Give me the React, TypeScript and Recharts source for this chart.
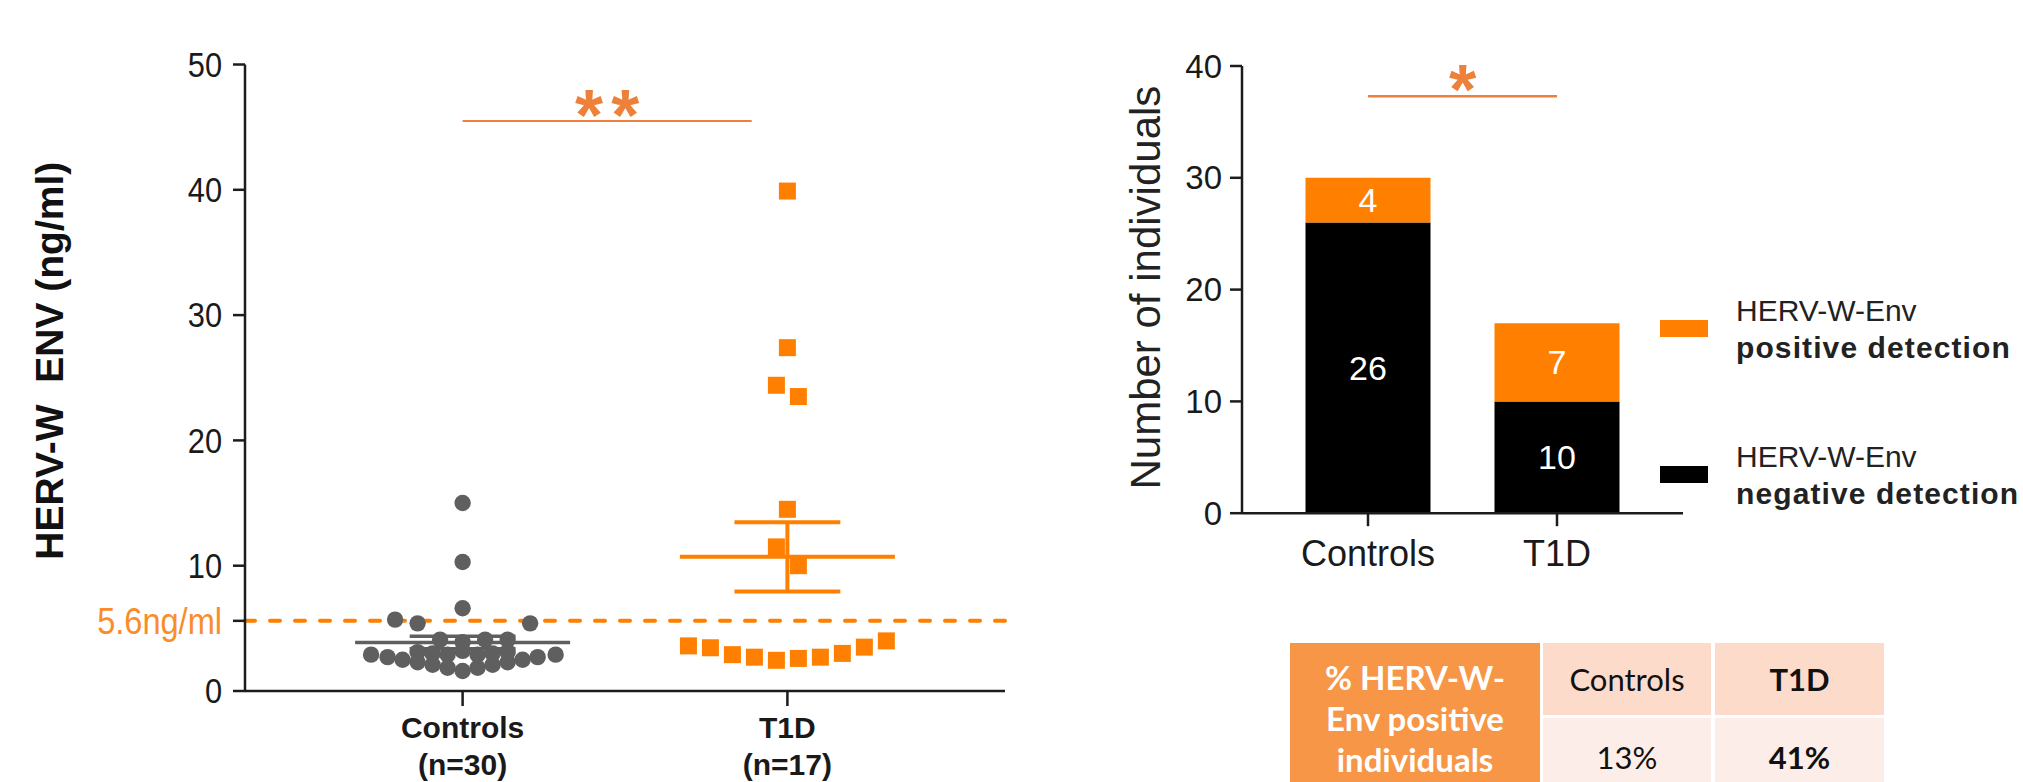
import React from 'react';
import {
  ScatterChart,
  Scatter,
  XAxis,
  YAxis,
  ReferenceLine,
  BarChart,
  Bar,
  LabelList,
} from 'recharts';

// ---------------- Left panel data ----------------
const groupNames = ['Controls', 'T1D'];
const groupSizes = ['(n=30)', '(n=17)'];
const controlsValues = [
  15.0, 10.3, 6.6, 5.7, 5.4, 5.4,
  4.1, 3.9, 4.1, 4.1,
  3.1, 3.0, 2.9, 3.2, 2.9, 3.0, 3.1,
  1.6, 1.85, 1.85, 2.1, 2.1, 2.3, 2.3, 2.5, 2.5, 2.7, 2.7, 2.9, 2.9,
];
// beeswarm slot of each point (in point widths from the group centre)
const controlsSwarm = [
  0, 0, 0, -4.5, -3, 4.5,
  -1.5, 0, 1.5, 3,
  -3, -2, -1, 0, 1, 2, 3,
  0, -1, 1, -2, 2, -3, 3, -4, 4, -5, 5, -6.1, 6.2,
];
const t1dValues = [39.9, 27.4, 24.4, 23.5, 14.5, 11.5, 10.0, 3.6, 3.45, 2.9, 2.7, 2.45, 2.6, 2.7, 3.0, 3.5, 4.0];
const t1dSwarm = [0, 0, -0.5, 0.5, 0, -0.5, 0.5, -4.5, -3.5, -2.5, -1.5, -0.5, 0.5, 1.5, 2.5, 3.5, 4.5];
const thresholdValue = 5.6;
const thresholdLabel = '5.6ng/ml';
const leftYTicks = [0, 5.6, 10, 20, 30, 40, 50];
const leftYTitle = 'HERV-W  ENV (ng/ml)';
const leftSigText = '**';
const leftSigLevel = 45.5;
const leftSigEnd = 1.89;

// ---------------- Right panel data ----------------
const barCategories = ['Controls', 'T1D'];
const negativeCounts = [26, 10];
const positiveCounts = [4, 7];
const rightYTicks = [0, 10, 20, 30, 40];
const rightYTitle = 'Number of individuals';
const rightSigText = '*';
const rightSigLevel = 37.3;
const legendPrefix = 'HERV-W-Env';
const legendNames = ['positive detection', 'negative detection'];

// ---------------- Table data ----------------
const tableHeaderLines = ['% HERV-W-', 'Env positive', 'individuals'];
const tableGroups = ['Controls', 'T1D'];
const tablePercents = ['13%', '41%'];

// ---------------- styling ----------------
const FONT = '"Liberation Sans", Arial, sans-serif';
const AXIS_COLOR = '#1c1c1c';
const TEXT_COLOR = '#1a1a1a';
const ORANGE = '#FF8000';
const ORANGE_TEXT = '#F98D2A';
const SIG_COLOR = '#EE8139';
const GREY = '#5f5f5f';
const CONTROL_STEP = 0.0462;
const T1D_STEP = 0.0677;
const MEAN_HALF = 0.331;
const CAP_HALF = 0.163;

const mean = (a: number[]) => a.reduce((s, v) => s + v, 0) / a.length;
const sem = (a: number[]) => {
  const m = mean(a);
  const sd = Math.sqrt(a.reduce((s, v) => s + (v - m) * (v - m), 0) / (a.length - 1));
  return sd / Math.sqrt(a.length);
};

const controlsData = controlsValues.map((v, i) => ({ x: 1 + controlsSwarm[i] * CONTROL_STEP, y: v }));
const t1dData = t1dValues.map((v, i) => ({ x: 2 + t1dSwarm[i] * T1D_STEP, y: v }));
const groupStats = [
  { x: 1, m: mean(controlsValues), e: sem(controlsValues), color: GREY, w: 3.5 },
  { x: 2, m: mean(t1dValues), e: sem(t1dValues), color: ORANGE, w: 4 },
];

const barData = barCategories.map((c, i) => ({ name: c, negative: negativeCounts[i], positive: positiveCounts[i] }));

const axisStyle = { stroke: AXIS_COLOR, strokeWidth: 2.5 };

const CircleShape = (props: any) => <circle cx={props.cx} cy={props.cy} r={8.2} fill={GREY} />;
const SquareShape = (props: any) => (
  <rect x={props.cx - 8.5} y={props.cy - 8.5} width={17} height={17} fill={ORANGE} />
);

const LeftYTick = (props: any) => {
  const { x, y, payload } = props;
  const isThr = payload.value === thresholdValue;
  return (
    <text
      transform={`translate(${x}, ${y}) scale(0.88, 1)`}
      x={0}
      y={0}
      textAnchor="end"
      dominantBaseline="central"
      fontFamily={FONT}
      fontSize={isThr ? 37 : 35}
      fill={isThr ? ORANGE_TEXT : TEXT_COLOR}
    >
      {isThr ? thresholdLabel : payload.value}
    </text>
  );
};

const LeftXTick = (props: any) => {
  const { x, y, payload } = props;
  const i = Math.round(payload.value) - 1;
  return (
    <g>
      <text x={x} y={y + 21} textAnchor="middle" dominantBaseline="central" fontFamily={FONT} fontSize={30} fontWeight={700} fill={TEXT_COLOR}>
        {groupNames[i]}
      </text>
      <text x={x} y={y + 58} textAnchor="middle" dominantBaseline="central" fontFamily={FONT} fontSize={30} fontWeight={700} fill={TEXT_COLOR}>
        {groupSizes[i]}
      </text>
    </g>
  );
};

const LeftYTitle = (props: any) => {
  const vb = props.viewBox || { x: 0, y: 0, width: 0, height: 0 };
  const cx = vb.x + 49;
  const cy = vb.y + vb.height / 2 - 17;
  return (
    <text
      x={cx}
      y={cy}
      transform={`rotate(-90, ${cx}, ${cy})`}
      textAnchor="middle"
      dominantBaseline="central"
      fontFamily={FONT}
      fontSize={39}
      fontWeight={700}
      fill="#111"
      style={{ whiteSpace: 'pre' }}
    >
      {leftYTitle}
    </text>
  );
};

const RightYTitle = (props: any) => {
  const vb = props.viewBox || { x: 0, y: 0, width: 0, height: 0 };
  const cx = vb.x + 136;
  const cy = vb.y + vb.height / 2 - 2;
  return (
    <text
      x={cx}
      y={cy}
      transform={`rotate(-90, ${cx}, ${cy})`}
      textAnchor="middle"
      dominantBaseline="central"
      fontFamily={FONT}
      fontSize={42}
      fill="#222"
    >
      {rightYTitle}
    </text>
  );
};

const RightYTick = (props: any) => {
  const { x, y, payload } = props;
  return (
    <text x={x} y={y} textAnchor="end" dominantBaseline="central" fontFamily={FONT} fontSize={33} fill={TEXT_COLOR}>
      {payload.value}
    </text>
  );
};

const RightXTick = (props: any) => {
  const { x, y, payload } = props;
  return (
    <text x={x} y={y + 27} textAnchor="middle" dominantBaseline="central" fontFamily={FONT} fontSize={36} fill={TEXT_COLOR}>
      {payload.value}
    </text>
  );
};

const makeSigLabel = (text: string, size: number, drop: number, spacing: number) => (props: any) => {
  const vb = props.viewBox || { x: 0, y: 0, width: 0, height: 0 };
  return (
    <text
      x={vb.x + vb.width / 2 + spacing / 2}
      y={vb.y + drop}
      textAnchor="middle"
      fontFamily={FONT}
      fontSize={size}
      fontWeight={700}
      fill={SIG_COLOR}
      letterSpacing={spacing}
    >
      {text}
    </text>
  );
};

const LeftSig = makeSigLabel(leftSigText, 72, 19, 8);
const RightSig = makeSigLabel(rightSigText, 70, 18, 0);

export default function App() {
  return (
    <div
      style={{
        position: 'fixed',
        left: 0,
        top: 0,
        width: 2023,
        height: 782,
        overflow: 'hidden',
        background: '#fff',
        fontFamily: FONT,
      }}
    >
      {/* Left scatter panel */}
      <div style={{ position: 'absolute', left: 0, top: 0 }}>
        <ScatterChart width={1010} height={782} margin={{ top: 64.5, right: 5, bottom: 0, left: 0 }}>
          <XAxis
            type="number"
            dataKey="x"
            domain={[0.33, 2.67]}
            ticks={[1, 2]}
            interval={0}
            height={91}
            axisLine={axisStyle}
            tickLine={axisStyle}
            tickSize={15}
            tickMargin={0}
            tick={<LeftXTick />}
          />
          <YAxis
            type="number"
            dataKey="y"
            domain={[0, 50]}
            ticks={leftYTicks}
            interval={0}
            width={245}
            axisLine={axisStyle}
            tickLine={axisStyle}
            tickSize={12}
            tickMargin={11}
            tick={<LeftYTick />}
            label={{ content: LeftYTitle }}
          />
          <ReferenceLine
            y={thresholdValue}
            stroke={ORANGE}
            strokeWidth={4}
            strokeDasharray="10 15"
            strokeLinecap="round"
          />
          <ReferenceLine
            segment={[
              { x: 1, y: leftSigLevel },
              { x: leftSigEnd, y: leftSigLevel },
            ]}
            stroke={SIG_COLOR}
            strokeWidth={2}
            label={{ content: LeftSig }}
          />
          <Scatter data={controlsData} shape={CircleShape} isAnimationActive={false} />
          <Scatter data={t1dData} shape={SquareShape} isAnimationActive={false} />
          {groupStats.map((g, i) => (
            <ReferenceLine
              key={`mean-${i}`}
              segment={[
                { x: g.x - MEAN_HALF, y: g.m },
                { x: g.x + MEAN_HALF, y: g.m },
              ]}
              stroke={g.color}
              strokeWidth={g.w}
            />
          ))}
          {groupStats.map((g, i) => (
            <ReferenceLine
              key={`capu-${i}`}
              segment={[
                { x: g.x - CAP_HALF, y: g.m + g.e },
                { x: g.x + CAP_HALF, y: g.m + g.e },
              ]}
              stroke={g.color}
              strokeWidth={g.w}
            />
          ))}
          {groupStats.map((g, i) => (
            <ReferenceLine
              key={`capl-${i}`}
              segment={[
                { x: g.x - CAP_HALF, y: g.m - g.e },
                { x: g.x + CAP_HALF, y: g.m - g.e },
              ]}
              stroke={g.color}
              strokeWidth={g.w}
            />
          ))}
          {groupStats.map((g, i) => (
            <ReferenceLine
              key={`err-${i}`}
              segment={[
                { x: g.x, y: g.m - g.e },
                { x: g.x, y: g.m + g.e },
              ]}
              stroke={g.color}
              strokeWidth={g.w}
            />
          ))}
        </ScatterChart>
      </div>

      {/* Right stacked bar panel */}
      <div style={{ position: 'absolute', left: 1010, top: 0 }}>
        <BarChart width={680} height={600} data={barData} margin={{ top: 66, right: 7, bottom: 0, left: 0 }} barSize={125}>
          <XAxis
            dataKey="name"
            padding={{ left: 31.5, right: 31.5 }}
            height={86.8}
            interval={0}
            axisLine={axisStyle}
            tickLine={axisStyle}
            tickSize={13}
            tickMargin={0}
            tick={<RightXTick />}
          />
          <YAxis
            type="number"
            domain={[0, 40]}
            ticks={rightYTicks}
            interval={0}
            width={232}
            axisLine={axisStyle}
            tickLine={axisStyle}
            tickSize={12}
            tickMargin={8}
            tick={<RightYTick />}
            label={{ content: RightYTitle }}
          />
          <Bar dataKey="negative" stackId="s" fill="#000000" isAnimationActive={false}>
            <LabelList dataKey="negative" position="center" fill="#ffffff" fontSize={34} fontFamily={FONT} />
          </Bar>
          <Bar dataKey="positive" stackId="s" fill={ORANGE} isAnimationActive={false}>
            <LabelList dataKey="positive" position="center" fill="#ffffff" fontSize={34} fontFamily={FONT} />
          </Bar>
          <ReferenceLine
            segment={[
              { x: barCategories[0], y: rightSigLevel },
              { x: barCategories[1], y: rightSigLevel },
            ]}
            stroke={SIG_COLOR}
            strokeWidth={2.5}
            label={{ content: RightSig }}
          />
        </BarChart>
      </div>

      {/* Legend */}
      {legendNames.map((name, i) => (
        <React.Fragment key={name}>
          <div
            style={{
              position: 'absolute',
              left: 1660,
              top: i === 0 ? 320 : 466,
              width: 48,
              height: 17,
              background: i === 0 ? ORANGE : '#000',
            }}
          />
          <div
            style={{
              position: 'absolute',
              left: 1736,
              top: i === 0 ? 291.5 : 437.5,
              fontSize: 30,
              lineHeight: '37px',
              color: '#222',
              whiteSpace: 'nowrap',
            }}
          >
            <div>{legendPrefix}</div>
            <div style={{ fontWeight: 700, letterSpacing: 1.1 }}>{name}</div>
          </div>
        </React.Fragment>
      ))}

      {/* Table */}
      <div
        style={{
          position: 'absolute',
          left: 1290,
          top: 643,
          width: 250,
          height: 145,
          background: '#F79646',
          color: '#fff',
          fontFamily: 'Lato, "Open Sans", sans-serif',
          fontWeight: 700,
          fontSize: 33,
          lineHeight: '41px',
          textAlign: 'center',
          display: 'flex',
          flexDirection: 'column',
          justifyContent: 'center',
          paddingTop: 6,
          boxSizing: 'border-box',
        }}
      >
        {tableHeaderLines.map((l) => (
          <div key={l}>{l}</div>
        ))}
      </div>
      {tableGroups.map((g, i) => (
        <React.Fragment key={g}>
          <div
            style={{
              position: 'absolute',
              left: i === 0 ? 1543 : 1715,
              top: 643,
              width: i === 0 ? 168 : 169,
              height: 72,
              background: '#FCDBCB',
              display: 'flex',
              alignItems: 'center',
              justifyContent: 'center',
              fontFamily: 'Lato, "Open Sans", sans-serif',
              fontSize: 31,
              fontWeight: i === 1 ? 700 : 400,
              color: '#111',
            }}
          >
            {g}
          </div>
          <div
            style={{
              position: 'absolute',
              left: i === 0 ? 1543 : 1715,
              top: 718,
              width: i === 0 ? 168 : 169,
              height: 70,
              background: '#FDEDE8',
              display: 'flex',
              alignItems: 'center',
              justifyContent: 'center',
              paddingTop: 8,
              boxSizing: 'border-box',
              fontFamily: 'Lato, "Open Sans", sans-serif',
              fontSize: 31,
              fontWeight: i === 1 ? 700 : 400,
              color: '#111',
            }}
          >
            {tablePercents[i]}
          </div>
        </React.Fragment>
      ))}
    </div>
  );
}
